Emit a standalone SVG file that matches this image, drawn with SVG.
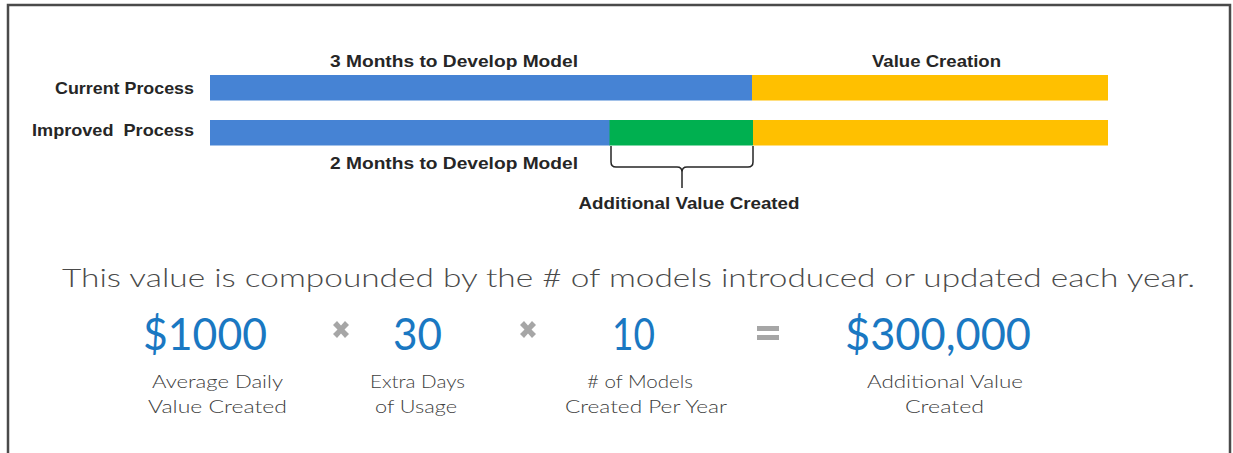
<svg xmlns="http://www.w3.org/2000/svg" width="1233" height="453" viewBox="0 0 1233 453">
<style>
.lbl{font-family:"Liberation Sans",Arial,sans-serif;font-weight:bold;font-size:17px;fill:#262626;white-space:pre}
.big{font-family:"Lato","Liberation Sans",sans-serif;font-weight:400;font-size:45px;fill:#1a78c2;text-anchor:middle}
.cap{font-family:"Lato","Liberation Sans",sans-serif;font-weight:300;font-size:18px;fill:#404040;text-anchor:middle}
.op{fill:#a6a6a6}
.blue{fill:#4683d4}.gold{fill:#ffc000}.green{fill:#00b050}
</style>
<rect x="8" y="5" width="1222" height="460" fill="#fff" stroke="#4a4a4a" stroke-width="2.5"/>
<g id="current-process">
<text class="lbl" x="194" y="94" text-anchor="end" textLength="139" lengthAdjust="spacingAndGlyphs">Current Process</text>
<rect class="blue" x="210" y="75" width="542" height="25.5"/>
<rect class="gold" x="752" y="75" width="356" height="25.5"/>
<text class="lbl" x="454" y="67" text-anchor="middle" textLength="248" lengthAdjust="spacingAndGlyphs">3 Months to Develop Model</text>
<text class="lbl" x="936.5" y="67" text-anchor="middle" textLength="129" lengthAdjust="spacingAndGlyphs">Value Creation</text>
</g>
<g id="improved-process">
<text class="lbl" x="194" y="136" text-anchor="end" textLength="162" lengthAdjust="spacingAndGlyphs">Improved  Process</text>
<rect class="blue" x="210" y="120" width="400" height="25.5"/>
<rect class="green" x="609.5" y="120" width="143.5" height="25.5"/>
<rect class="gold" x="753" y="120" width="355" height="25.5"/>
<text class="lbl" x="454" y="169" text-anchor="middle" textLength="248" lengthAdjust="spacingAndGlyphs">2 Months to Develop Model</text>
</g>
<g id="connectors">
<path d="M611 146 V162 Q611 167 616 167 H677 Q682 167 682 172 V188 M682 172 Q682 167 687 167 H748 Q753 167 753 162 V146" fill="none" stroke="#262626" stroke-width="1.5"/>
</g>
<g id="additional-value">
<text class="lbl" x="689" y="209" text-anchor="middle" textLength="221" lengthAdjust="spacingAndGlyphs">Additional Value Created</text>
</g>
<g id="summary">
<text x="62" y="287" font-family="Lato,'Liberation Sans',sans-serif" font-weight="300" font-size="25" fill="#4a4a4a" textLength="1133" lengthAdjust="spacingAndGlyphs">This value is compounded by the # of models introduced or updated each year.</text>
</g>
<g id="daily-value">
<text class="big" x="205" y="350" textLength="124" lengthAdjust="spacingAndGlyphs">$1000</text>
<text class="cap" x="217.5" y="388" textLength="131" lengthAdjust="spacingAndGlyphs">Average Daily</text>
<text class="cap" x="217.5" y="413" textLength="139" lengthAdjust="spacingAndGlyphs">Value Created</text>
</g>
<g id="times-1">
<path class="op" d="M333 325 l4-4 l4 4.5 l4-4.5 l4 4 l-4.5 4.5 l4.5 4.5 l-4 4 l-4-4.5 l-4 4.5 l-4-4 l4.5-4.5z"/>
</g>
<g id="extra-days">
<text class="big" x="417.5" y="350" textLength="49" lengthAdjust="spacingAndGlyphs">30</text>
<text class="cap" x="417.5" y="388" textLength="95" lengthAdjust="spacingAndGlyphs">Extra Days</text>
<text class="cap" x="416" y="413" textLength="82" lengthAdjust="spacingAndGlyphs">of Usage</text>
</g>
<g id="times-2">
<path class="op" d="M520 325 l4-4 l4 4.5 l4-4.5 l4 4 l-4.5 4.5 l4.5 4.5 l-4 4 l-4-4.5 l-4 4.5 l-4-4 l4.5-4.5z"/>
</g>
<g id="models">
<text class="big" x="633.5" y="350" textLength="43" lengthAdjust="spacingAndGlyphs">10</text>
<text class="cap" x="640" y="388" textLength="106" lengthAdjust="spacingAndGlyphs"># of Models</text>
<text class="cap" x="646" y="413" textLength="162" lengthAdjust="spacingAndGlyphs">Created Per Year</text>
</g>
<g id="equals">
<rect class="op" x="757" y="326" width="22" height="5"/>
<rect class="op" x="757" y="335" width="22" height="5"/>
</g>
<g id="total">
<text class="big" x="938" y="350" textLength="186" lengthAdjust="spacingAndGlyphs">$300,000</text>
<text class="cap" x="945" y="388" textLength="156" lengthAdjust="spacingAndGlyphs">Additional Value</text>
<text class="cap" x="944.5" y="413" textLength="79" lengthAdjust="spacingAndGlyphs">Created</text>
</g>
</svg>
